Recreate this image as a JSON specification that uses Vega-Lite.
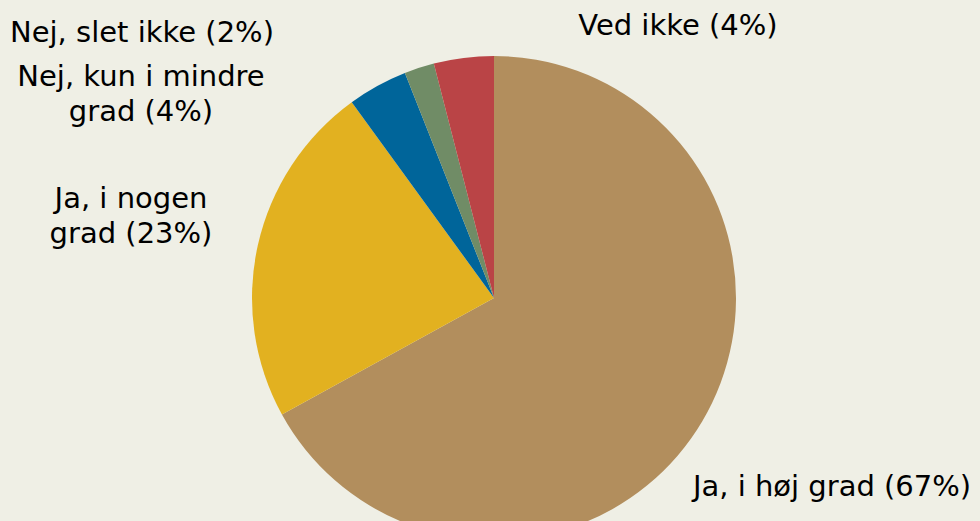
{
  "$schema": "https://vega.github.io/schema/vega-lite/v6.json",
  "width": 972,
  "height": 446,
  "autosize": {"type": "none"},
  "padding": {"left": 8, "top": 75, "right": 0, "bottom": 0},
  "background": "#EFEFE5",
  "config": {"view": {"stroke": null}},
  "data": {
    "values": [
      {"category": "Ja, i høj grad", "pct": 67, "order": 1, "label": "Ja, i høj grad (67%)"},
      {"category": "Ja, i nogen grad", "pct": 23, "order": 2, "label": "Ja, i nogen\ngrad (23%)"},
      {"category": "Nej, kun i mindre grad", "pct": 4, "order": 3, "label": "Nej, kun i mindre\ngrad (4%)"},
      {"category": "Nej, slet ikke", "pct": 2, "order": 4, "label": "Nej, slet ikke (2%)"},
      {"category": "Ved ikke", "pct": 4, "order": 5, "label": "Ved ikke (4%)"}
    ]
  },
  "layer": [
    {
      "mark": {"type": "arc", "outerRadius": 242},
      "encoding": {
        "theta": {"field": "pct", "type": "quantitative", "stack": true},
        "order": {"field": "order", "type": "quantitative"},
        "color": {
          "field": "category",
          "type": "nominal",
          "legend": null,
          "scale": {
            "domain": ["Ja, i høj grad", "Ja, i nogen grad", "Nej, kun i mindre grad", "Nej, slet ikke", "Ved ikke"],
            "range": ["#B28E5D", "#E2B120", "#00659A", "#708C66", "#BA4446"]
          }
        }
      }
    },
    {
      "transform": [{"filter": "datum.order == 1"}],
      "mark": {"type": "text", "font": "DejaVu Sans", "fontSize": 29, "color": "#000000", "align": "center", "baseline": "middle", "dx": 338, "dy": 189},
      "encoding": {"text": {"field": "label"}}
    },
    {
      "transform": [{"filter": "datum.order == 2"}],
      "mark": {"type": "text", "font": "DejaVu Sans", "fontSize": 29, "color": "#000000", "align": "center", "baseline": "middle", "lineBreak": "\n", "lineHeight": 35, "dx": -363, "dy": -99},
      "encoding": {"text": {"field": "label"}}
    },
    {
      "transform": [{"filter": "datum.order == 3"}],
      "mark": {"type": "text", "font": "DejaVu Sans", "fontSize": 29, "color": "#000000", "align": "center", "baseline": "middle", "lineBreak": "\n", "lineHeight": 35, "dx": -353, "dy": -221},
      "encoding": {"text": {"field": "label"}}
    },
    {
      "transform": [{"filter": "datum.order == 4"}],
      "mark": {"type": "text", "font": "DejaVu Sans", "fontSize": 29, "color": "#000000", "align": "center", "baseline": "middle", "dx": -352, "dy": -265},
      "encoding": {"text": {"field": "label"}}
    },
    {
      "transform": [{"filter": "datum.order == 5"}],
      "mark": {"type": "text", "font": "DejaVu Sans", "fontSize": 29, "color": "#000000", "align": "center", "baseline": "middle", "dx": 184, "dy": -272},
      "encoding": {"text": {"field": "label"}}
    }
  ]
}
